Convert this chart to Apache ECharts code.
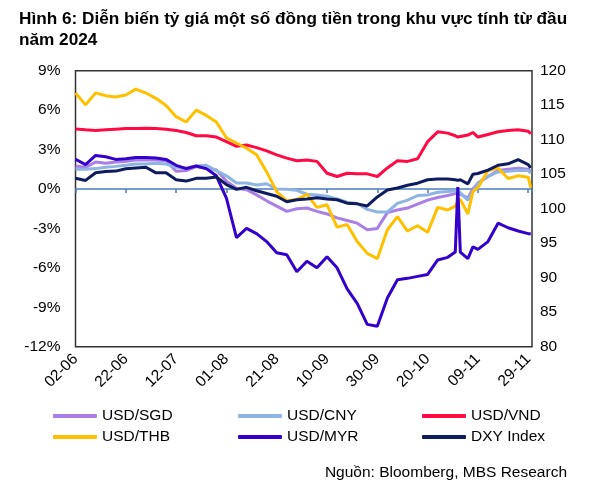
<!DOCTYPE html>
<html>
<head>
<meta charset="utf-8">
<script src="https://cdn.jsdelivr.net/npm/echarts/dist/echarts.min.js"></script>
<style>
  html, body { margin: 0; padding: 0; background: #fff; }
  #chart-wrapper { width: 596px; height: 484px; }
</style>
</head>
<body>
<div id="chart-wrapper"></div>
<script>
// dd-mm, 2024
const dates = [
  '02-06', '06-06', '10-06', '14-06', '18-06', '22-06', '26-06', '30-06', '04-07', '08-07',
  '12-07', '16-07', '20-07', '24-07', '28-07', '01-08', '05-08', '09-08', '13-08', '17-08',
  '21-08', '25-08', '29-08', '02-09', '06-09', '10-09', '14-09', '18-09', '22-09', '26-09',
  '30-09', '04-10', '08-10', '12-10', '16-10', '20-10', '24-10', '28-10', '31-10', '01-11',
  '02-11', '05-11', '07-11', '09-11', '13-11', '17-11', '21-11', '25-11', '29-11', '30-11'
]
const tickLabels = ['02-06', '22-06', '12-07', '01-08', '21-08', '10-09', '30-09', '20-10', '09-11', '29-11']

// % change since start of year (left axis)
const usdSgd = [
  1.75, 1.65, 2.05, 1.95, 2.05, 2.1, 2.2, 2.2, 2.2, 2.15,
  1.35, 1.4, 1.7, 1.55, 1.45, 0.6, 0.05, -0.05, -0.45, -0.9,
  -1.3, -1.7, -1.5, -1.45, -1.7, -1.9, -2.2, -2.4, -2.6, -3.1,
  -3.0, -1.8, -1.6, -1.45, -1.15, -0.85, -0.65, -0.5, -0.35, -0.3,
  -0.4, -0.7, 0.0, 0.45, 0.95, 1.4, 1.5, 1.58, 1.5, 1.3
]
const usdCny = [
  1.5, 1.5, 1.55, 1.65, 1.72, 1.8, 1.9, 1.9, 1.95, 1.9,
  1.65, 1.6, 1.75, 1.8, 1.4, 1.0, 0.45, 0.45, 0.3, 0.4,
  0.0, -0.02, -0.1, -0.4, -0.45, -0.55, -0.75, -1.0, -1.1, -1.55,
  -1.75, -1.75, -1.1, -0.85, -0.5, -0.45, -0.25, -0.2, -0.15, -0.1,
  -0.3, -0.85, -0.2, 0.45, 0.95, 1.3, 1.35, 1.42, 1.4, 1.2
]
const usdVnd = [
  4.57, 4.5, 4.45, 4.5, 4.55, 4.6, 4.6, 4.62, 4.6, 4.55,
  4.45, 4.3, 4.05, 4.05, 3.95, 3.6, 3.25, 3.35, 3.15, 2.9,
  2.6, 2.35, 2.15, 2.2, 2.1, 1.2, 0.95, 1.2, 1.15, 1.15,
  0.95, 1.6, 2.15, 2.1, 2.3, 3.6, 4.35, 4.25, 4.05, 3.95,
  4.0, 4.1, 4.3, 3.95, 4.15, 4.35, 4.45, 4.5, 4.4, 4.2
]
const usdThb = [
  7.3, 6.4, 7.3, 7.1, 7.0, 7.15, 7.6, 7.3, 6.9, 6.35,
  5.5, 5.1, 6.0, 5.6, 5.1, 3.9, 3.5, 3.1, 2.6, 1.3,
  -0.2, -0.9, -0.8, -0.4, -1.4, -1.2, -2.9, -2.7, -4.0, -4.9,
  -5.3, -3.1, -2.1, -3.2, -2.8, -3.3, -1.4, -1.6, -1.3, -0.9,
  -0.8, -1.9, -0.2, 0.1, 1.4, 1.6, 0.8, 1.0, 0.9, 0.1
]
const usdMyr = [
  2.26, 1.85, 2.55, 2.45, 2.25, 2.3, 2.4, 2.4, 2.35, 2.25,
  1.8, 1.55, 1.75, 1.55, 1.0, -0.7, -3.7, -3.0, -3.4, -4.0,
  -4.85, -5.0, -6.3, -5.5, -6.0, -5.15, -6.0, -7.6, -8.7, -10.3,
  -10.45, -8.3, -6.9, -6.8, -6.65, -6.5, -5.4, -5.2, -4.8, 0.15,
  -4.8, -5.3, -4.4, -4.6, -4.0, -2.6, -2.95, -3.2, -3.4, -3.4
]
// index level (right axis)
const dxyIndex = [
  104.4, 104.1, 105.2, 105.4, 105.45, 105.8, 105.9, 106.0, 105.2, 105.2,
  104.2, 104.0, 104.4, 104.4, 104.6, 103.5, 102.8, 103.1, 102.6, 102.2,
  101.8, 101.0, 101.3, 101.4, 101.6, 101.4, 101.3, 100.8, 100.7, 100.4,
  101.7, 102.7, 103.0, 103.4, 103.7, 104.2, 104.3, 104.3, 104.2, 104.1,
  104.2, 103.6, 105.0, 105.1, 105.6, 106.3, 106.5, 107.1, 106.4, 105.9
]

const fontFamily = '"Liberation Sans", Arial, sans-serif'
const textColor = '#000'

const dayOf = s => {
  const [d, m] = s.split('-').map(Number)
  return (Date.UTC(2024, m - 1, d) - Date.UTC(2024, 5, 2)) / 86400000
}
const toPairs = vals => dates.map((s, i) => [dayOf(s), vals[i]])

const seriesDefs = [
  { name: 'USD/SGD', data: usdSgd, color: '#A97FE5', axis: 0 },
  { name: 'USD/CNY', data: usdCny, color: '#8DB4E3', axis: 0 },
  { name: 'USD/VND', data: usdVnd, color: '#FF0A45', axis: 0 },
  { name: 'USD/THB', data: usdThb, color: '#FFC000', axis: 0 },
  { name: 'USD/MYR', data: usdMyr, color: '#3300CC', axis: 0 },
  { name: 'DXY Index', data: dxyIndex, color: '#0E1B5E', axis: 1 }
]

const legendCol = (names, left) => ({
  orient: 'vertical',
  left: left,
  top: 403,
  itemWidth: 44,
  itemHeight: 4,
  itemGap: 5,
  icon: 'roundRect',
  selectedMode: false,
  data: names,
  textStyle: { fontSize: 15.5, color: textColor, fontFamily }
})

const chartDom = document.getElementById('chart-wrapper')
const chart = echarts.init(chartDom)

const option = {
  animation: false,
  backgroundColor: '#fff',
  textStyle: { fontFamily },
  title: [
    {
      text: 'Hình 6: Diễn biến tỷ giá một số đồng tiền trong khu vực tính từ đầu\nnăm 2024',
      left: 14,
      top: 4,
      textStyle: { fontSize: 17.2, fontWeight: 'bold', lineHeight: 21, color: textColor, fontFamily }
    },
    {
      text: 'Nguồn: Bloomberg, MBS Research',
      right: 24,
      top: 460,
      textStyle: { fontSize: 15.5, fontWeight: 'normal', color: textColor, fontFamily }
    }
  ],
  legend: [
    legendCol(['USD/SGD', 'USD/THB'], 48),
    legendCol(['USD/CNY', 'USD/MYR'], 233),
    legendCol(['USD/VND', 'DXY Index'], 417)
  ],
  grid: {
    left: 75.5,
    right: 64,
    top: 70.7,
    bottom: 137.3,
    show: true,
    borderColor: '#333',
    borderWidth: 1.5
  },
  xAxis: [
    {
      type: 'value',
      min: 0,
      max: 181.5,
      interval: 20,
      axisLine: { show: false, onZero: false },
      axisTick: { show: false },
      splitLine: { show: false },
      axisLabel: {
        rotate: 45,
        margin: 10,
        fontSize: 15.5,
        color: textColor,
        formatter: v => tickLabels[v / 20] || ''
      }
    },
    {
      type: 'value',
      min: 0,
      max: 181.5,
      interval: 20,
      position: 'bottom',
      axisLine: { show: true, onZero: true, onZeroAxisIndex: 0, lineStyle: { color: '#4A7EBB', width: 1.5 } },
      axisTick: { show: true, length: 4, lineStyle: { color: '#4A7EBB', width: 1.5 } },
      axisLabel: { show: false },
      splitLine: { show: false }
    }
  ],
  yAxis: [
    {
      type: 'value',
      min: -12,
      max: 9,
      interval: 3,
      axisLine: { show: false },
      axisTick: { show: false },
      splitLine: { show: false },
      axisLabel: { formatter: '{value}%', margin: 15, fontSize: 15.5, color: textColor }
    },
    {
      type: 'value',
      position: 'right',
      min: 80,
      max: 120,
      interval: 5,
      axisLine: { show: false },
      axisTick: { show: false },
      splitLine: { show: false },
      axisLabel: { margin: 8, fontSize: 15.5, color: textColor }
    }
  ],
  series: seriesDefs.map(s => ({
    name: s.name,
    type: 'line',
    xAxisIndex: 0,
    yAxisIndex: s.axis,
    data: toPairs(s.data),
    symbol: 'none',
    color: s.color,
    lineStyle: { width: 3, color: s.color },
    emphasis: { disabled: true }
  }))
}

chart.setOption(option)
</script>
</body>
</html>
